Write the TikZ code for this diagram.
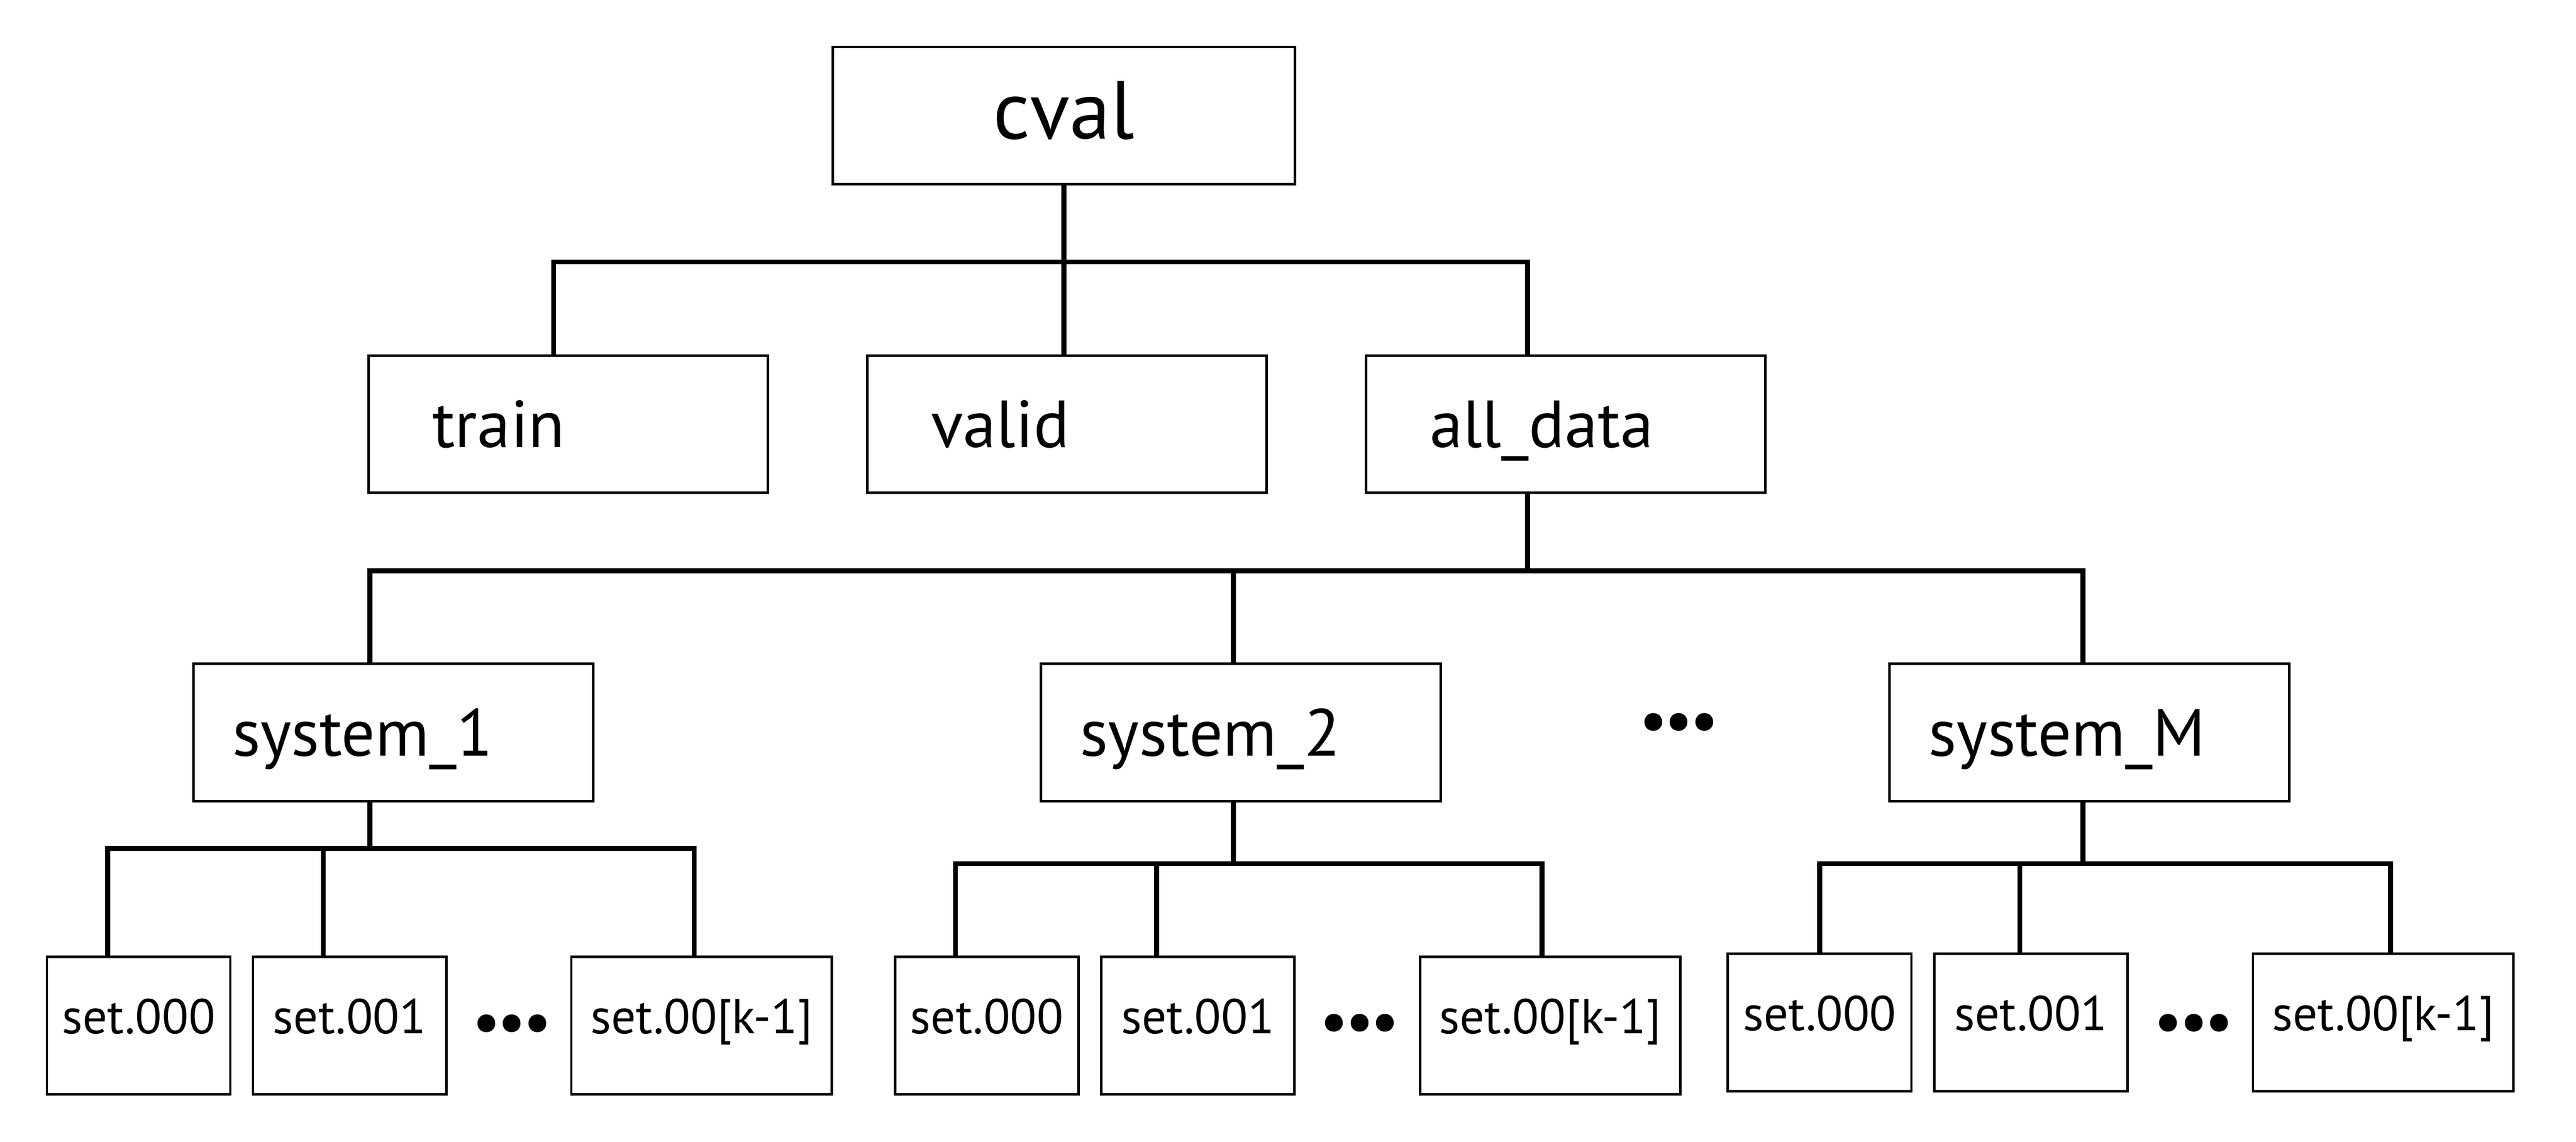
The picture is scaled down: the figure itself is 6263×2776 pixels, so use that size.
\documentclass[tikz,border=0pt]{standalone}
\usepackage{fontspec}
\setmainfont{PT Sans}
\newcommand{\dotrun}{\makebox[6.2pt]{•}\makebox[6.2pt]{•}\makebox[6.2pt]{•}}
\begin{document}
\begin{tikzpicture}[x=0.1pt,y=-0.1pt,
  box/.style={draw=black,line width=0.6pt,minimum height=33.4pt,inner sep=0pt},
  top/.style={box,minimum width=112.3pt,font=\fontsize{20}{24}\selectfont,text height=11.4pt,text depth=0pt},
  mid/.style={box,text width=66.1pt,inner xsep=15.5pt,align=left,font=\fontsize{16.2}{19}\selectfont,text height=11.4pt,text depth=0pt},
  sys/.style={box,text width=78.2pt,inner xsep=9.5pt,align=left,font=\fontsize{16.2}{19}\selectfont,text height=11.4pt,text depth=0pt},
  leaf/.style={box,font=\fontsize{11.9}{14}\selectfont,text height=3.8pt,text depth=0pt},
  more/.style={inner sep=0pt,font=\fontsize{15.5}{18}\selectfont},
  link/.style={draw=black,line width=1.2pt}]
\useasboundingbox (0,0) rectangle (6263,2776);
\node[top] (cval) at (2586.5,281) {cval};
\node[mid] (train) at (1381.5,1031.5) {train};
\node[mid] (valid) at (2594.5,1031.5) {valid};
\node[mid] (alldata) at (3806.5,1031.5) {all\_data};
\node[sys] (sysa) at (956,1781) {system\_1};
\node[sys] (sysb) at (3017,1781) {system\_2};
\node[sys] (sysm) at (5080,1781) {system\_M};
\node[more] (dotsys) at (4082,1770) {\dotrun};
\node[leaf,minimum width=44.6pt] (seta0) at (337,2494) {set.000};
\node[leaf,minimum width=47pt] (seta1) at (850,2494) {set.001};
\node[more] (dotsa) at (1245,2502) {\dotrun};
\node[leaf,minimum width=63.3pt] (seta2) at (1705.5,2494) {set.00[k-1]};
\node[leaf,minimum width=44.6pt] (setb0) at (2399.5,2494) {set.000};
\node[leaf,minimum width=47pt] (setb1) at (2912.5,2494) {set.001};
\node[more] (dotsb) at (3306,2501) {\dotrun};
\node[leaf,minimum width=63.3pt] (setb2) at (3769,2494) {set.00[k-1]};
\node[leaf,minimum width=44.6pt] (setm0) at (4424,2486.5) {set.000};
\node[leaf,minimum width=47pt] (setm1) at (4937.5,2486.5) {set.001};
\node[more] (dotsm) at (5334,2501) {\dotrun};
\node[leaf,minimum width=63.3pt] (setm2) at (5794,2486.5) {set.00[k-1]};
\coordinate (b1l) at (1346,637);
\coordinate (b1r) at (3714,637);
\coordinate (b2l) at (899,1388);
\coordinate (b2m) at (2999,1388);
\coordinate (b2r) at (5064,1388);
\coordinate (gal) at (262,2063);
\coordinate (gam) at (786,2063);
\coordinate (gar) at (1688,2063);
\coordinate (gbl) at (2323,2100);
\coordinate (gbm) at (2812,2100);
\coordinate (gbr) at (3749,2100);
\coordinate (gml) at (4424,2100);
\coordinate (gmm) at (4911,2100);
\coordinate (gmr) at (5812,2100);
\draw[link] (cval.south) -- (cval.south |- valid.north);
\draw[link] (b1l |- train.north) -- (b1l) -- (b1r) -- (b1r |- alldata.north);
\draw[link] (b1r |- alldata.south) -- (b1r |- b2r);
\draw[link] (b2l |- sysa.north) -- (b2l) -- (b2r) -- (b2r |- sysm.north);
\draw[link] (b2m) -- (b2m |- sysb.north);
\draw[link] (b2l |- sysa.south) -- (b2l |- gal);
\draw[link] (gal |- seta0.north) -- (gal) -- (gar) -- (gar |- seta2.north);
\draw[link] (gam) -- (gam |- seta1.north);
\draw[link] (b2m |- sysb.south) -- (b2m |- gbl);
\draw[link] (gbl |- setb0.north) -- (gbl) -- (gbr) -- (gbr |- setb2.north);
\draw[link] (gbm) -- (gbm |- setb1.north);
\draw[link] (b2r |- sysm.south) -- (b2r |- gml);
\draw[link] (gml |- setm0.north) -- (gml) -- (gmr) -- (gmr |- setm2.north);
\draw[link] (gmm) -- (gmm |- setm1.north);
\end{tikzpicture}
\end{document}
